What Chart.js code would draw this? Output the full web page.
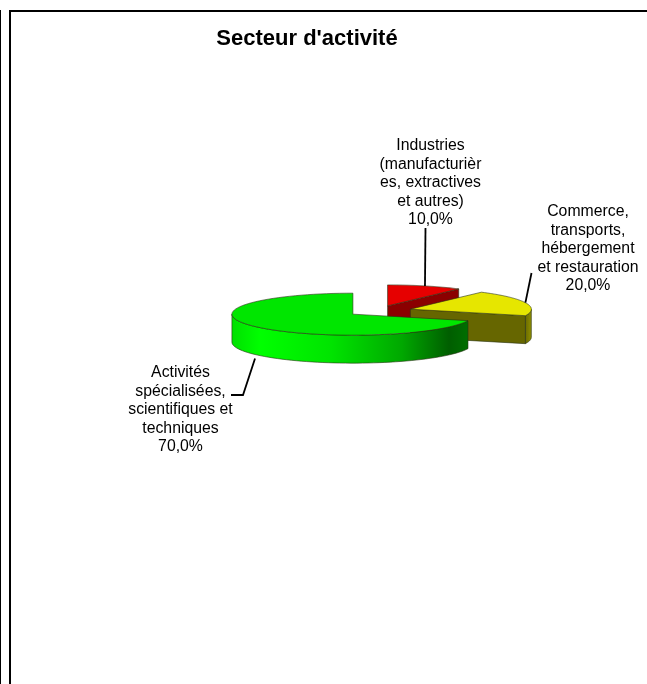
<!DOCTYPE html>
<html lang="fr">
<head>
<meta charset="utf-8">
<title>Secteur d'activité</title>
<style>
html,body{margin:0;padding:0;background:#fff;overflow:hidden}
canvas{display:block}
</style>
<script src="https://cdn.jsdelivr.net/npm/chart.js@4"></script>
</head>
<body>
<canvas id="c" width="647" height="684" style="width:647px;height:684px"></canvas>
<script>
const titleText = "Secteur d'activité";
const categories = ["Industries (manufacturières, extractives et autres)", "Commerce, transports, hébergement et restauration", "Activités spécialisées, scientifiques et techniques"];
const shares = [10, 20, 70];
const valueLabels = ["10,0%", "20,0%", "70,0%"];
const labelLines = [
  ["Industries", "(manufacturièr", "es, extractives", "et autres)"],
  ["Commerce,", "transports,", "hébergement", "et restauration"],
  ["Activités", "spécialisées,", "scientifiques et", "techniques"]
];
const topColors = ["#E60000", "#E6E600", "#00E600"];
const faceColors = ["#8B0000", "#666600", "#006600"];
const rimStops = [
  [[0, "#8B0000"], [1, "#8B0000"]],
  [[0, "#6b6b00"], [1, "#8f8f00"]],
  [[0, "#00E000"], [0.12, "#00FF00"], [0.42, "#00E400"], [0.72, "#00A800"], [0.92, "#005E00"], [1, "#006E00"]]
];

// presentation geometry
const R = 121, K = 21 / 121, DEPTH = 28, EDGE = "rgba(40,50,20,0.75)";
const explodes = [31, 34, 31];
const labelX = [430.5, 588, 180.5];
const labelY = [146, 212, 373];
const LINE_H = 18.5;
const leaderEnd = [
  [[425.5, 228]],
  [[531.5, 273]],
  [[243, 395], [231, 395]]
];
const leaderDepth = [0, 0, 32];

function geom(a, i) {
  const h = (a.startAngle + a.endAngle) / 2;
  const ex = explodes[i];
  const ox = a.x + Math.cos(h) * ex, oy = Math.sin(h) * ex;
  const px = t => ox + R * Math.cos(t);
  const py = (t, d = 0) => a.y + K * (oy + R * Math.sin(t)) + d;
  const cxp = ox, cyp = a.y + K * oy;
  return {h, ex, px, py, cxp, cyp};
}
function rimPath(ctx, a, g, from, to) {
  ctx.beginPath();
  const n = 60;
  for (let i = 0; i <= n; i++) { const t = from + (to - from) * i / n; ctx[i ? "lineTo" : "moveTo"](g.px(t), g.py(t)); }
  for (let i = n; i >= 0; i--) { const t = from + (to - from) * i / n; ctx.lineTo(g.px(t), g.py(t, DEPTH)); }
  ctx.closePath();
}
const pie3d = {
  id: "pie3d",
  afterLayout(chart) {
    chart.titleBlock.left = 0; chart.titleBlock.right = 614;
  },
  beforeDatasetsDraw(chart) {
    const ctx = chart.ctx, arcs = chart.getDatasetMeta(0).data;
    // frame
    ctx.save();
    ctx.fillStyle = "#000";
    ctx.fillRect(9, 10, 638, 2);
    ctx.fillRect(9, 10, 2, 674);
    ctx.fillRect(0, 10, 1, 674);
    ctx.restore();
    arcs.forEach((a, i) => {
      const g = geom(a, i);
      ctx.save();
      ctx.strokeStyle = EDGE; ctx.lineWidth = 0.8;
      // outer rim, lower half of the ellipse
      const m = Math.PI * 2;
      let s = ((a.startAngle % m) + m) % m, e = s + (a.endAngle - a.startAngle);
      if (e > m) { s -= m; e -= m; }
      const from = Math.max(s, 0), to = Math.min(e, Math.PI);
      if (to > from) {
        const x0 = g.px(to), x1 = g.px(from);
        const grad = ctx.createLinearGradient(x0, 0, x1, 0);
        rimStops[i].forEach(([p, c]) => grad.addColorStop(p, c));
        rimPath(ctx, a, g, from, to);
        ctx.fillStyle = grad; ctx.fill(); ctx.stroke();
      }
      // straight cut faces that look downward
      [[a.startAngle, a.startAngle - Math.PI / 2], [a.endAngle, a.endAngle + Math.PI / 2]].forEach(([t, n]) => {
        if (Math.sin(n) > 0.01) {
          ctx.beginPath();
          ctx.moveTo(g.cxp, g.cyp);
          ctx.lineTo(g.px(t), g.py(t));
          ctx.lineTo(g.px(t), g.py(t, DEPTH));
          ctx.lineTo(g.cxp, g.cyp + DEPTH);
          ctx.closePath();
          ctx.fillStyle = faceColors[i];
          ctx.fill(); ctx.stroke();
        }
      });
      ctx.restore();
      if (!a._wrapped) {
        const base = a.draw.bind(a);
        a.draw = c => {
          c.save();
          c.translate(a.x, a.y); c.scale(1, K); c.translate(-a.x, -a.y);
          c.translate(Math.cos(g.h) * g.ex, Math.sin(g.h) * g.ex);
          base(c);
          c.restore();
        };
        a._wrapped = true;
      }
    });
  },
  afterDatasetsDraw(chart) {
    const ctx = chart.ctx, arcs = chart.getDatasetMeta(0).data;
    arcs.forEach((a, i) => {
      const g = geom(a, i);
      ctx.save();
      ctx.strokeStyle = EDGE; ctx.lineWidth = 0.8;
      ctx.beginPath();
      ctx.moveTo(g.cxp, g.cyp);
      const n = 80;
      for (let j = 0; j <= n; j++) { const t = a.startAngle + (a.endAngle - a.startAngle) * j / n; ctx.lineTo(g.px(t), g.py(t)); }
      ctx.closePath(); ctx.stroke();
      ctx.restore();

      // leader line from the slice's mid-angle rim point
      ctx.save();
      ctx.strokeStyle = "#000"; ctx.lineWidth = 1.8;
      ctx.beginPath();
      ctx.moveTo(g.px(g.h), g.py(g.h, leaderDepth[i]));
      leaderEnd[i].forEach(p => ctx.lineTo(p[0], p[1]));
      ctx.stroke();
      ctx.restore();

      // label text
      ctx.save();
      ctx.fillStyle = "#000";
      ctx.font = "15.8px 'Liberation Sans', Arial, sans-serif";
      ctx.textAlign = "center"; ctx.textBaseline = "middle";
      labelLines[i].concat(valueLabels[i]).forEach((l, j) => ctx.fillText(l, labelX[i], labelY[i] + j * LINE_H));
      ctx.restore();
    });
  }
};

new Chart(document.getElementById("c"), {
  type: "pie",
  data: {
    labels: categories,
    datasets: [{ data: shares, backgroundColor: topColors, borderWidth: 0, clip: false }]
  },
  options: {
    responsive: false,
    animation: false,
    rotation: 0,
    radius: R,
    layout: { padding: { left: 110, right: 1, top: 0, bottom: 114.4 } },
    plugins: {
      legend: { display: false },
      tooltip: { enabled: false },
      title: {
        display: true, text: titleText, align: "center", color: "#000",
        font: { family: "'Liberation Sans', Arial, sans-serif", size: 22, weight: "bold", lineHeight: 1.2 },
        padding: { top: 26, bottom: 0 }
      }
    }
  },
  plugins: [pie3d]
});
</script>
</body>
</html>
